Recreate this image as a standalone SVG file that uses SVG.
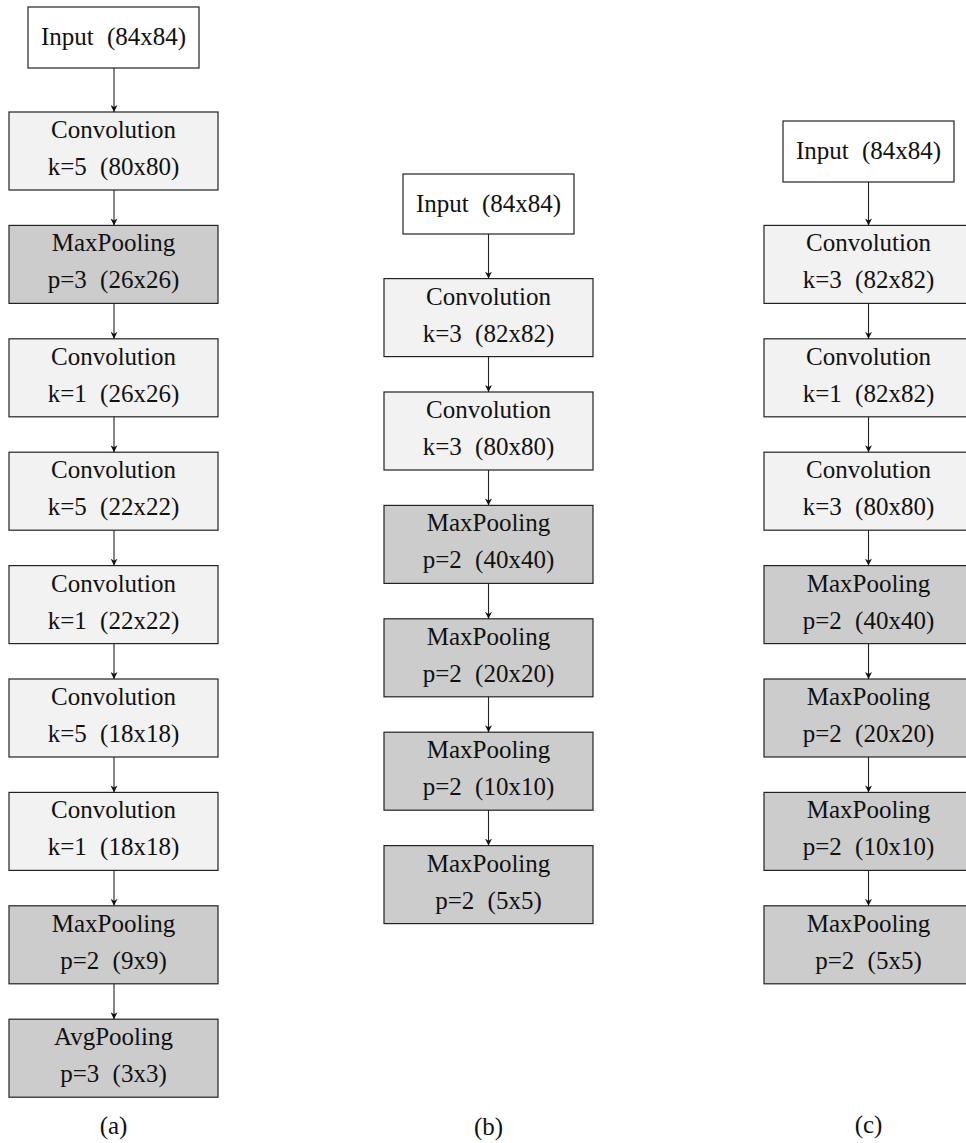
<svg xmlns="http://www.w3.org/2000/svg" width="966" height="1143" viewBox="0 0 966 1143" font-family="Liberation Serif, DejaVu Serif, serif">
<style>
.box{stroke:#222;stroke-width:1.2}
.in{fill:#ffffff}
.cv{fill:#f2f2f2}
.pl{fill:#cccccc}
text{font-family:'Liberation Serif','DejaVu Serif',serif;font-size:25px;fill:#111;text-anchor:middle;word-spacing:7px}
.conn line{stroke:#222;stroke-width:1.1;marker-end:url(#ah)}
</style>
<defs>
<marker id="ah" viewBox="0 0 10 10" refX="10" refY="5" markerWidth="7" markerHeight="7" markerUnits="userSpaceOnUse" orient="auto">
<path d="M0,0 L10,5 L0,10 L3,5 Z" fill="#111"/>
</marker>
</defs>
<rect width="966" height="1143" fill="#fff"/>

<!-- Column (a) -->
<g id="a_in"><rect class="box in" x="28" y="7" width="171" height="61"/><text x="113.5" y="45">Input (84x84)</text></g>
<g id="a1"><rect class="box cv" x="9" y="112" width="209" height="78"/><text x="113.5" y="138">Convolution</text><text x="113.5" y="175">k=5 (80x80)</text></g>
<g id="a2"><rect class="box pl" x="9" y="225.4" width="209" height="78"/><text x="113.5" y="251.4">MaxPooling</text><text x="113.5" y="288.4">p=3 (26x26)</text></g>
<g id="a3"><rect class="box cv" x="9" y="338.8" width="209" height="78"/><text x="113.5" y="364.8">Convolution</text><text x="113.5" y="401.8">k=1 (26x26)</text></g>
<g id="a4"><rect class="box cv" x="9" y="452.2" width="209" height="78"/><text x="113.5" y="478.2">Convolution</text><text x="113.5" y="515.2">k=5 (22x22)</text></g>
<g id="a5"><rect class="box cv" x="9" y="565.6" width="209" height="78"/><text x="113.5" y="591.6">Convolution</text><text x="113.5" y="628.6">k=1 (22x22)</text></g>
<g id="a6"><rect class="box cv" x="9" y="679" width="209" height="78"/><text x="113.5" y="705">Convolution</text><text x="113.5" y="742">k=5 (18x18)</text></g>
<g id="a7"><rect class="box cv" x="9" y="792.4" width="209" height="78"/><text x="113.5" y="818.4">Convolution</text><text x="113.5" y="855.4">k=1 (18x18)</text></g>
<g id="a8"><rect class="box pl" x="9" y="905.8" width="209" height="78"/><text x="113.5" y="931.8">MaxPooling</text><text x="113.5" y="968.8">p=2 (9x9)</text></g>
<g id="a9"><rect class="box pl" x="9" y="1019.2" width="209" height="78"/><text x="113.5" y="1045.2">AvgPooling</text><text x="113.5" y="1082.2">p=3 (3x3)</text></g>
<text x="113.5" y="1134">(a)</text>

<!-- Column (b) -->
<g id="b_in"><rect class="box in" x="403" y="174" width="171" height="60"/><text x="488.5" y="212">Input (84x84)</text></g>
<g id="b1"><rect class="box cv" x="384" y="278.6" width="209" height="78"/><text x="488.5" y="304.6">Convolution</text><text x="488.5" y="341.6">k=3 (82x82)</text></g>
<g id="b2"><rect class="box cv" x="384" y="392" width="209" height="78"/><text x="488.5" y="418">Convolution</text><text x="488.5" y="455">k=3 (80x80)</text></g>
<g id="b3"><rect class="box pl" x="384" y="505.4" width="209" height="78"/><text x="488.5" y="531.4">MaxPooling</text><text x="488.5" y="568.4">p=2 (40x40)</text></g>
<g id="b4"><rect class="box pl" x="384" y="618.8" width="209" height="78"/><text x="488.5" y="644.8">MaxPooling</text><text x="488.5" y="681.8">p=2 (20x20)</text></g>
<g id="b5"><rect class="box pl" x="384" y="732.2" width="209" height="78"/><text x="488.5" y="758.2">MaxPooling</text><text x="488.5" y="795.2">p=2 (10x10)</text></g>
<g id="b6"><rect class="box pl" x="384" y="845.6" width="209" height="78"/><text x="488.5" y="871.6">MaxPooling</text><text x="488.5" y="908.6">p=2 (5x5)</text></g>
<text x="488.5" y="1135">(b)</text>

<!-- Column (c) -->
<g id="c_in"><rect class="box in" x="783" y="121" width="171" height="61"/><text x="868.5" y="159">Input (84x84)</text></g>
<g id="c1"><rect class="box cv" x="764" y="225.4" width="209" height="78"/><text x="868.5" y="251.4">Convolution</text><text x="868.5" y="288.4">k=3 (82x82)</text></g>
<g id="c2"><rect class="box cv" x="764" y="338.8" width="209" height="78"/><text x="868.5" y="364.8">Convolution</text><text x="868.5" y="401.8">k=1 (82x82)</text></g>
<g id="c3"><rect class="box cv" x="764" y="452.2" width="209" height="78"/><text x="868.5" y="478.2">Convolution</text><text x="868.5" y="515.2">k=3 (80x80)</text></g>
<g id="c4"><rect class="box pl" x="764" y="565.6" width="209" height="78"/><text x="868.5" y="591.6">MaxPooling</text><text x="868.5" y="628.6">p=2 (40x40)</text></g>
<g id="c5"><rect class="box pl" x="764" y="679" width="209" height="78"/><text x="868.5" y="705">MaxPooling</text><text x="868.5" y="742">p=2 (20x20)</text></g>
<g id="c6"><rect class="box pl" x="764" y="792.4" width="209" height="78"/><text x="868.5" y="818.4">MaxPooling</text><text x="868.5" y="855.4">p=2 (10x10)</text></g>
<g id="c7"><rect class="box pl" x="764" y="905.8" width="209" height="78"/><text x="868.5" y="931.8">MaxPooling</text><text x="868.5" y="968.8">p=2 (5x5)</text></g>
<text x="868.5" y="1133">(c)</text>

<g id="connectors" class="conn">
<line x1="114" y1="68" x2="114" y2="112"/>
<line x1="114" y1="190" x2="114" y2="225.4"/>
<line x1="114" y1="303.4" x2="114" y2="338.8"/>
<line x1="114" y1="416.8" x2="114" y2="452.2"/>
<line x1="114" y1="530.2" x2="114" y2="565.6"/>
<line x1="114" y1="643.6" x2="114" y2="679"/>
<line x1="114" y1="757" x2="114" y2="792.4"/>
<line x1="114" y1="870.4" x2="114" y2="905.8"/>
<line x1="114" y1="983.8" x2="114" y2="1019.2"/>
<line x1="488.5" y1="234" x2="488.5" y2="278.6"/>
<line x1="488.5" y1="356.6" x2="488.5" y2="392"/>
<line x1="488.5" y1="470" x2="488.5" y2="505.4"/>
<line x1="488.5" y1="583.4" x2="488.5" y2="618.8"/>
<line x1="488.5" y1="696.8" x2="488.5" y2="732.2"/>
<line x1="488.5" y1="810.2" x2="488.5" y2="845.6"/>
<line x1="868.5" y1="182" x2="868.5" y2="225.4"/>
<line x1="868.5" y1="303.4" x2="868.5" y2="338.8"/>
<line x1="868.5" y1="416.8" x2="868.5" y2="452.2"/>
<line x1="868.5" y1="530.2" x2="868.5" y2="565.6"/>
<line x1="868.5" y1="643.6" x2="868.5" y2="679"/>
<line x1="868.5" y1="757" x2="868.5" y2="792.4"/>
<line x1="868.5" y1="870.4" x2="868.5" y2="905.8"/>
</g>
</svg>
